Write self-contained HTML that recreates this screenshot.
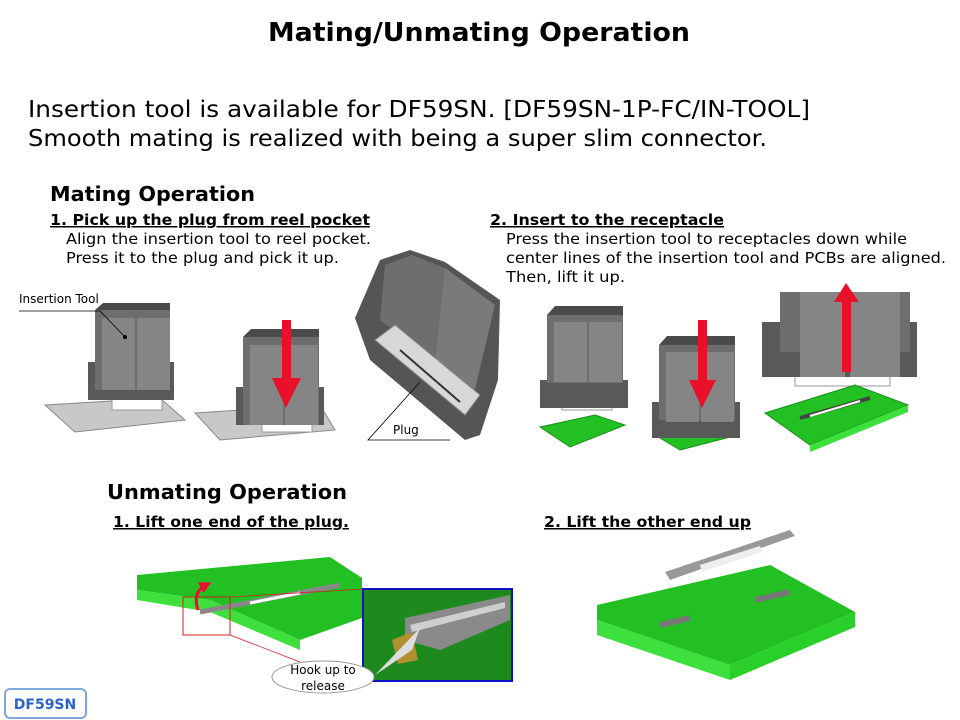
<!DOCTYPE html>
<html><head><meta charset="utf-8"><style>
html,body{margin:0;padding:0;background:#fff;width:960px;height:720px;overflow:hidden}
svg{display:block}
text{font-family:"DejaVu Sans","Liberation Sans",sans-serif}
</style></head><body>
<svg width="960" height="720" viewBox="0 0 960 720" xmlns="http://www.w3.org/2000/svg">
<defs>
<marker id="ar" markerWidth="4" markerHeight="4" refX="2" refY="2" orient="auto"><path d="M0,0 L4,2 L0,4z" fill="#e8102a"/></marker>
</defs>
<text x="268" y="41" font-size="26" font-weight="bold" textLength="422" lengthAdjust="spacingAndGlyphs">Mating/Unmating Operation</text>
<text x="28" y="117" font-size="23.5" textLength="782" lengthAdjust="spacingAndGlyphs">Insertion tool is available for DF59SN. [DF59SN-1P-FC/IN-TOOL]</text>
<text x="28" y="146" font-size="23.5" textLength="739" lengthAdjust="spacingAndGlyphs">Smooth mating is realized with being a super slim connector.</text>
<text x="50" y="201" font-size="20" font-weight="bold" textLength="205" lengthAdjust="spacingAndGlyphs">Mating Operation</text>
<text x="50" y="225" font-size="15" font-weight="bold" text-decoration="underline" textLength="320" lengthAdjust="spacingAndGlyphs">1. Pick up the plug from reel pocket</text>
<text x="66" y="244" font-size="15" textLength="305" lengthAdjust="spacingAndGlyphs">Align the insertion tool to reel pocket.</text>
<text x="66" y="263" font-size="15" textLength="273" lengthAdjust="spacingAndGlyphs">Press it to the plug and pick it up.</text>
<text x="490" y="225" font-size="15" font-weight="bold" text-decoration="underline" textLength="234" lengthAdjust="spacingAndGlyphs">2. Insert to the receptacle</text>
<text x="506" y="244" font-size="15" textLength="401" lengthAdjust="spacingAndGlyphs">Press the insertion tool to receptacles down while</text>
<text x="506" y="263" font-size="15" textLength="440" lengthAdjust="spacingAndGlyphs">center lines of the insertion tool and PCBs are aligned.</text>
<text x="506" y="282" font-size="15" textLength="119" lengthAdjust="spacingAndGlyphs">Then, lift it up.</text>

<!-- tool 1 -->
<polygon points="45,405 160,398 185,420 75,432" fill="#c8c8c8" stroke="#888"/>
<rect x="112" y="388" width="50" height="22" fill="#fff" stroke="#999"/>
<rect x="88" y="362" width="86" height="38" fill="#595959"/>
<rect x="95" y="310" width="75" height="80" fill="#6e6e6e"/>
<rect x="102" y="318" width="33" height="72" fill="#858585"/>
<rect x="137" y="318" width="33" height="72" fill="#858585"/>
<polygon points="95,310 103,303 170,303 170,310" fill="#4a4a4a"/>
<text x="19" y="303" font-size="12">Insertion Tool</text>
<polyline points="19,311 100,311 125,337" fill="none" stroke="#000" stroke-width="0.8"/>
<circle cx="125" cy="337" r="2" fill="#000"/>

<!-- tool 2 -->
<polygon points="195,413 320,405 335,430 220,440" fill="#c8c8c8" stroke="#888"/>
<rect x="262" y="412" width="50" height="20" fill="#fff" stroke="#999"/>
<rect x="236" y="387" width="88" height="38" fill="#595959"/>
<rect x="243" y="337" width="76" height="88" fill="#6e6e6e"/>
<rect x="250" y="345" width="33" height="80" fill="#858585"/>
<rect x="285" y="345" width="33" height="80" fill="#858585"/>
<polygon points="243,337 251,329 319,329 319,337" fill="#4a4a4a"/>
<rect x="282" y="320" width="9" height="60" fill="#e8102a"/>
<polygon points="272,378 301,378 286,408" fill="#e8102a"/>

<!-- big plug tool -->
<polygon points="355,318 380,260 410,250 445,262 500,300 498,380 480,435 465,440 370,360" fill="#555"/>
<polygon points="385,265 412,255 445,268 435,360 380,320" fill="#6e6e6e"/>
<polygon points="445,268 495,305 470,410 435,360" fill="#7a7a7a"/>
<polygon points="375,340 395,325 480,395 465,415" fill="#d8d8d8" stroke="#888"/>
<line x1="400" y1="350" x2="460" y2="402" stroke="#333" stroke-width="2"/>
<text x="393" y="434" font-size="12">Plug</text>
<polyline points="450,440 368,440 420,382" fill="none" stroke="#000" stroke-width="0.8"/>

<!-- tool 3 -->
<polygon points="540,427 595,415 625,425 570,447" fill="#22c022" stroke="#189018"/>
<rect x="562" y="383" width="50" height="27" fill="#fff" stroke="#999"/>
<rect x="540" y="380" width="88" height="28" fill="#595959"/>
<rect x="547" y="315" width="76" height="68" fill="#6e6e6e"/>
<rect x="554" y="322" width="33" height="60" fill="#858585"/>
<rect x="589" y="322" width="33" height="60" fill="#858585"/>
<polygon points="547,315 555,306 623,306 623,315" fill="#4a4a4a"/>

<!-- tool 4 -->
<polygon points="655,435 720,422 738,435 680,450" fill="#22c022" stroke="#189018"/>
<rect x="675" y="410" width="50" height="25" fill="#fff" stroke="#999"/>
<rect x="652" y="402" width="88" height="36" fill="#595959"/>
<rect x="659" y="345" width="76" height="75" fill="#6e6e6e"/>
<rect x="666" y="352" width="33" height="70" fill="#858585"/>
<rect x="701" y="352" width="33" height="70" fill="#858585"/>
<polygon points="659,345 667,336 735,336 735,345" fill="#4a4a4a"/>
<rect x="698" y="320" width="9" height="62" fill="#e8102a"/>
<polygon points="689,380 716,380 702,408" fill="#e8102a"/>

<!-- tool 5 -->
<rect x="795" y="370" width="95" height="16" fill="#fff" stroke="#999"/>
<rect x="762" y="322" width="155" height="55" fill="#595959"/>
<rect x="780" y="292" width="130" height="60" fill="#6e6e6e"/>
<rect x="800" y="292" width="45" height="85" fill="#858585"/>
<rect x="850" y="292" width="50" height="85" fill="#858585"/>
<polygon points="765,413 855,385 908,405 810,445" fill="#22c022" stroke="#189018"/>
<polygon points="810,445 908,405 908,412 810,452" fill="#3ee03e"/>
<line x1="800" y1="418" x2="870" y2="398" stroke="#444" stroke-width="4"/>
<line x1="810" y1="416" x2="860" y2="401" stroke="#fff" stroke-width="2"/>
<rect x="842" y="300" width="9" height="72" fill="#e8102a"/>
<polygon points="834,302 859,302 846,283" fill="#e8102a"/>

<text x="107" y="499" font-size="20" font-weight="bold" textLength="240" lengthAdjust="spacingAndGlyphs">Unmating Operation</text>
<text x="113" y="527" font-size="15" font-weight="bold" text-decoration="underline" textLength="236" lengthAdjust="spacingAndGlyphs">1. Lift one end of the plug.</text>
<text x="544" y="527" font-size="15" font-weight="bold" text-decoration="underline" textLength="207" lengthAdjust="spacingAndGlyphs">2. Lift the other end up</text>

<!-- unmating pcb 1 -->
<polygon points="137,575 330,557 362,578 362,618 300,640 210,600 137,590" fill="#22c022"/>
<polygon points="137,590 210,600 210,612 137,600" fill="#3ee03e"/>
<polygon points="210,600 300,640 300,650 210,612" fill="#3ee03e"/>
<line x1="200" y1="612" x2="340" y2="585" stroke="#888" stroke-width="5"/>
<line x1="250" y1="603" x2="300" y2="593" stroke="#fff" stroke-width="3"/>
<rect x="183" y="597" width="47" height="38" fill="none" stroke="#d02020" stroke-width="1"/>
<path d="M198,610 Q192,592 206,585" fill="none" stroke="#e8102a" stroke-width="3" marker-end="url(#ar)"/>
<line x1="230" y1="597" x2="363" y2="589" stroke="#d02020" stroke-width="0.8"/>
<line x1="230" y1="635" x2="300" y2="662" stroke="#d02020" stroke-width="0.8"/>
<rect x="363" y="589" width="149" height="92" fill="#1e8a1e" stroke="#1010c8" stroke-width="2"/>
<polygon points="405,618 510,595 510,620 440,650 405,640" fill="#8a8a8a"/>
<polygon points="410,625 505,602 505,608 412,632" fill="#cfcfcf"/>
<polygon points="392,640 412,632 418,660 398,664" fill="#b09030"/>
<polygon points="375,675 420,628 412,650" fill="#ddd"/>
<ellipse cx="323" cy="677" rx="51" ry="16" fill="#fff" stroke="#999"/>
<text x="323" y="674" font-size="12" text-anchor="middle">Hook up to</text>
<text x="323" y="690" font-size="12" text-anchor="middle">release</text>

<!-- unmating pcb 2 -->
<polygon points="597,605 770,565 855,612 730,665 597,620" fill="#22c022"/>
<polygon points="597,620 730,665 730,680 597,635" fill="#3ee03e"/>
<polygon points="730,665 855,612 855,627 730,680" fill="#2ad02a"/>
<line x1="660" y1="625" x2="690" y2="618" stroke="#777" stroke-width="6"/>
<line x1="755" y1="600" x2="790" y2="592" stroke="#777" stroke-width="6"/>
<polygon points="665,572 790,530 795,536 670,580" fill="#999"/>
<polygon points="700,565 760,546 762,552 702,572" fill="#eee"/>

<rect x="5" y="689" width="81" height="29" rx="5" fill="#fff" stroke="#7ea7e0" stroke-width="2"/>
<text x="45" y="709" font-size="14" font-weight="bold" text-anchor="middle" fill="#2a62c8">DF59SN</text>
</svg>
</body></html>
